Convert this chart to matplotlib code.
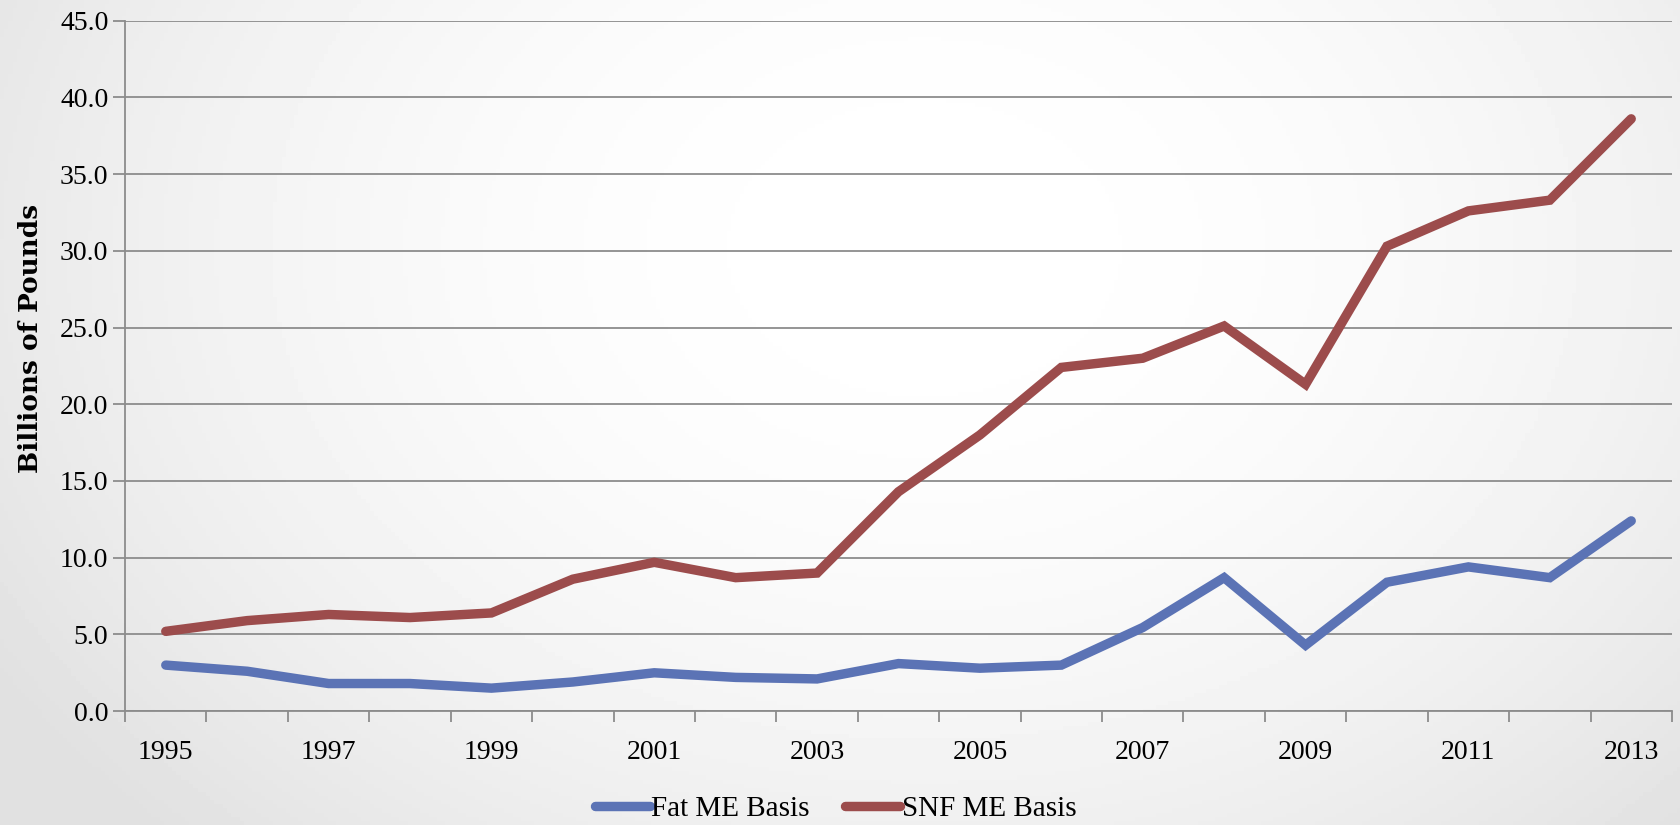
import numpy as np
import matplotlib.pyplot as plt

years = np.arange(1995, 2014)
tick_labels = ['1995', '1997', '1999', '2001', '2003', '2005', '2007', '2009', '2011', '2013']

fat_me = [3.0, 2.6, 1.8, 1.8, 1.5, 1.9, 2.5, 2.2, 2.1, 3.1,
          2.8, 3.0, 5.45, 8.7, 4.3, 8.4, 9.4, 8.7, 12.4]
snf_me = [5.2, 5.9, 6.3, 6.1, 6.4, 8.6, 9.7, 8.7, 9.0, 14.3,
          18.0, 22.4, 23.0, 25.1, 21.3, 30.3, 32.6, 33.3, 38.6]

plt.rcParams['font.family'] = ['Liberation Serif', 'DejaVu Serif']

fig = plt.figure(figsize=(16.81, 8.25), dpi=100)

# grey-to-white background like the slide
bg = fig.add_axes([0, 0, 1, 1], zorder=-10)
gx, gy = np.meshgrid(np.linspace(0, 1, 400), np.linspace(0, 1, 200))
r = np.sqrt(((gx - 0.55) / 0.65) ** 2 + ((gy - 0.3) / 1.0) ** 2)
shade = 1.0 - 0.12 * np.clip(r, 0, 1) ** 2.0
bg.imshow(shade, cmap='gray', vmin=0, vmax=1, aspect='auto', extent=[0, 1, 0, 1], origin='upper')
bg.axis('off')

ax = fig.add_axes([0.0744, 0.138, 0.9202, 0.837])
ax.patch.set_alpha(0)

x = np.arange(len(years))
ax.plot(x, fat_me, color='#5B73B5', lw=6.8, solid_capstyle='round', solid_joinstyle='miter', label='Fat ME Basis', zorder=3)
ax.plot(x, snf_me, color='#9C4C4C', lw=6.8, solid_capstyle='round', solid_joinstyle='miter', label='SNF ME Basis', zorder=3)

ax.set_xlim(-0.5, len(years) - 0.5)
ax.set_ylim(0, 45)
ax.set_yticks(np.arange(0, 46, 5))
ax.set_yticklabels([f'{v:.1f}' for v in np.arange(0, 46, 5)])
ax.set_xticks(np.arange(-0.5, len(years)), minor=False)
ax.set_xticklabels([])
ax.set_xticks(np.arange(0, len(years), 2), minor=True)
ax.set_xticklabels(tick_labels, minor=True)
ax.tick_params(axis='x', which='major', length=8, width=1.3, color='#8C8C8C')
ax.tick_params(axis='x', which='minor', length=0, pad=21, labelsize=20)
ax.tick_params(axis='y', length=9, width=1.3, color='#8C8C8C', labelsize=20, pad=3)

ax.grid(axis='y', color='#8C8C8C', lw=1.3)
ax.set_axisbelow(True)
for s in ['top', 'right']:
    ax.spines[s].set_visible(False)
for s in ['left', 'bottom']:
    ax.spines[s].set_color('#8C8C8C')
    ax.spines[s].set_linewidth(1.3)

ax.set_ylabel('Billions of Pounds', fontsize=19, fontweight='bold',
              family=['DejaVu Serif'])
ax.yaxis.set_label_coords(-0.053, 0.54)

fig.legend(loc='center', bbox_to_anchor=(0.497, 0.02), ncol=2, frameon=False,
           fontsize=21, handlelength=1.9, handletextpad=0.05, columnspacing=1.2)

fig.savefig('out.png', dpi=100)
